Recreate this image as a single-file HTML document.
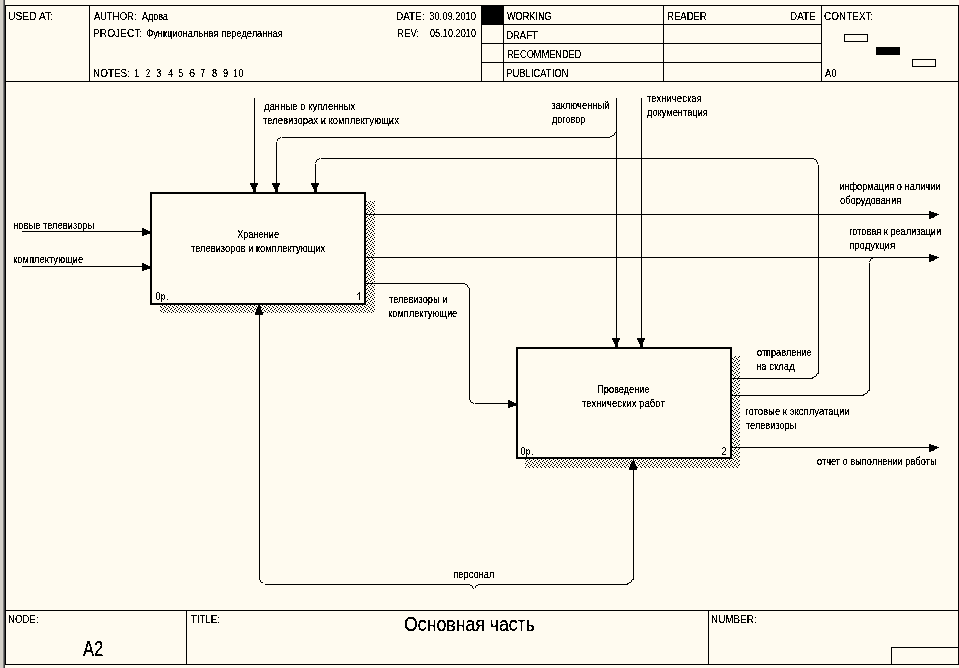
<!DOCTYPE html>
<html><head><meta charset="utf-8"><title>IDEF0</title>
<style>
html,body{margin:0;padding:0;width:959px;height:668px;overflow:hidden;background:#FFFBF0}
svg{position:absolute;left:0;top:0;display:block}
text{font-family:"Liberation Sans",sans-serif;fill:#000}
</style></head><body>
<svg width="959" height="668" viewBox="0 0 959 668">
<defs>
<pattern id="sh" patternUnits="userSpaceOnUse" x="0" y="0" width="4" height="4">
<rect width="4" height="4" fill="#FFFBF0"/>
<rect x="3" y="0" width="1" height="1" fill="#000"/>
<rect x="2" y="1" width="1" height="1" fill="#000"/>
<rect x="0" y="2" width="1" height="1" fill="#000"/>
<rect x="1" y="3" width="1" height="1" fill="#000"/>
</pattern>
<filter id="al" x="0" y="0" width="959" height="668" filterUnits="userSpaceOnUse">
<feComponentTransfer><feFuncA type="discrete" tableValues="0 0 0 0 1 1 1 1 1 1 1"/></feComponentTransfer>
</filter>
<filter id="al2" x="0" y="0" width="959" height="668" filterUnits="userSpaceOnUse">
<feComponentTransfer><feFuncA type="discrete" tableValues="0 0 1 1 1"/></feComponentTransfer>
</filter>
</defs>
<g shape-rendering="crispEdges">
<rect x="0" y="0" width="3" height="668" fill="#D4D0C8"/>
<rect x="3" y="0" width="1" height="668" fill="#808080"/>
<rect x="4" y="0" width="1" height="668" fill="#404040"/>
<rect x="5" y="5" width="954" height="1" fill="#000"/>
<rect x="5" y="664" width="954" height="1" fill="#000"/>
<rect x="5" y="5" width="1" height="660" fill="#000"/>
<rect x="958" y="5" width="1" height="660" fill="#000"/>
<rect x="5" y="81" width="954" height="1" fill="#000"/>
<rect x="89" y="5" width="1" height="77" fill="#000"/>
<rect x="481" y="5" width="1" height="77" fill="#000"/>
<rect x="503" y="5" width="1" height="77" fill="#000"/>
<rect x="663" y="5" width="1" height="77" fill="#000"/>
<rect x="821" y="5" width="1" height="77" fill="#000"/>
<rect x="481" y="24" width="341" height="1" fill="#000"/>
<rect x="481" y="43" width="341" height="1" fill="#000"/>
<rect x="481" y="62" width="341" height="1" fill="#000"/>
<rect x="481" y="5" width="23" height="20" fill="#000"/>
<rect x="844" y="34" width="24" height="8" fill="#000"/>
<rect x="845" y="35" width="22" height="6" fill="#FFFBF0"/>
<rect x="876" y="47" width="24" height="8" fill="#000"/>
<rect x="912" y="59" width="24" height="8" fill="#000"/>
<rect x="913" y="60" width="22" height="6" fill="#FFFBF0"/>
<rect x="5" y="610" width="954" height="1" fill="#000"/>
<rect x="186" y="610" width="1" height="55" fill="#000"/>
<rect x="708" y="610" width="1" height="55" fill="#000"/>
<rect x="891" y="647" width="1" height="18" fill="#000"/>
<rect x="891" y="647" width="68" height="1" fill="#000"/>
<rect x="366" y="201" width="9" height="112" fill="url(#sh)"/>
<rect x="160" y="305" width="206" height="8" fill="url(#sh)"/>
<rect x="150" y="192" width="216" height="2" fill="#000"/>
<rect x="150" y="303" width="216" height="2" fill="#000"/>
<rect x="150" y="192" width="2" height="113" fill="#000"/>
<rect x="364" y="192" width="2" height="113" fill="#000"/>
<rect x="732" y="356" width="8" height="112" fill="url(#sh)"/>
<rect x="525" y="459" width="207" height="9" fill="url(#sh)"/>
<rect x="516" y="347" width="216" height="2" fill="#000"/>
<rect x="516" y="457" width="216" height="2" fill="#000"/>
<rect x="516" y="347" width="2" height="112" fill="#000"/>
<rect x="730" y="347" width="2" height="112" fill="#000"/>
<rect x="22" y="231" width="128" height="1" fill="#000"/>
<rect x="142" y="228" width="1" height="8" fill="#000"/>
<rect x="143" y="228" width="1" height="8" fill="#000"/>
<rect x="144" y="229" width="1" height="6" fill="#000"/>
<rect x="145" y="229" width="1" height="6" fill="#000"/>
<rect x="146" y="230" width="1" height="5" fill="#000"/>
<rect x="147" y="230" width="1" height="4" fill="#000"/>
<rect x="148" y="231" width="1" height="3" fill="#000"/>
<rect x="149" y="231" width="1" height="3" fill="#000"/>
<rect x="22" y="266" width="128" height="1" fill="#000"/>
<rect x="142" y="263" width="1" height="8" fill="#000"/>
<rect x="143" y="263" width="1" height="8" fill="#000"/>
<rect x="144" y="264" width="1" height="6" fill="#000"/>
<rect x="145" y="264" width="1" height="6" fill="#000"/>
<rect x="146" y="265" width="1" height="5" fill="#000"/>
<rect x="147" y="265" width="1" height="4" fill="#000"/>
<rect x="148" y="266" width="1" height="3" fill="#000"/>
<rect x="149" y="266" width="1" height="3" fill="#000"/>
<rect x="254" y="98" width="1" height="94" fill="#000"/>
<rect x="250" y="183" width="8" height="1" fill="#000"/>
<rect x="250" y="184" width="8" height="1" fill="#000"/>
<rect x="251" y="185" width="6" height="1" fill="#000"/>
<rect x="251" y="186" width="6" height="1" fill="#000"/>
<rect x="252" y="187" width="4" height="1" fill="#000"/>
<rect x="252" y="188" width="4" height="1" fill="#000"/>
<rect x="253" y="189" width="3" height="1" fill="#000"/>
<rect x="253" y="190" width="3" height="1" fill="#000"/>
<rect x="253" y="191" width="3" height="1" fill="#000"/>
<rect x="616" y="98" width="1" height="249" fill="#000"/>
<rect x="612" y="338" width="8" height="1" fill="#000"/>
<rect x="612" y="339" width="8" height="1" fill="#000"/>
<rect x="613" y="340" width="6" height="1" fill="#000"/>
<rect x="613" y="341" width="6" height="1" fill="#000"/>
<rect x="614" y="342" width="4" height="1" fill="#000"/>
<rect x="614" y="343" width="4" height="1" fill="#000"/>
<rect x="615" y="344" width="3" height="1" fill="#000"/>
<rect x="615" y="345" width="3" height="1" fill="#000"/>
<rect x="615" y="346" width="3" height="1" fill="#000"/>
<rect x="641" y="98" width="1" height="249" fill="#000"/>
<rect x="637" y="338" width="8" height="1" fill="#000"/>
<rect x="637" y="339" width="8" height="1" fill="#000"/>
<rect x="638" y="340" width="6" height="1" fill="#000"/>
<rect x="638" y="341" width="6" height="1" fill="#000"/>
<rect x="639" y="342" width="4" height="1" fill="#000"/>
<rect x="639" y="343" width="4" height="1" fill="#000"/>
<rect x="640" y="344" width="3" height="1" fill="#000"/>
<rect x="640" y="345" width="3" height="1" fill="#000"/>
<rect x="640" y="346" width="3" height="1" fill="#000"/>
<rect x="157" y="292" width="1" height="1" fill="#000"/>
<rect x="158" y="292" width="1" height="1" fill="#000"/>
<rect x="157" y="299" width="1" height="1" fill="#000"/>
<rect x="158" y="299" width="1" height="1" fill="#000"/>
<rect x="156" y="293" width="1" height="6" fill="#000"/>
<rect x="159" y="293" width="1" height="6" fill="#000"/>
<rect x="161" y="294" width="1" height="8" fill="#000"/>
<rect x="163" y="294" width="1" height="1" fill="#000"/>
<rect x="162" y="295" width="1" height="1" fill="#000"/>
<rect x="164" y="295" width="1" height="1" fill="#000"/>
<rect x="164" y="296" width="1" height="1" fill="#000"/>
<rect x="164" y="297" width="1" height="1" fill="#000"/>
<rect x="164" y="298" width="1" height="1" fill="#000"/>
<rect x="162" y="298" width="1" height="1" fill="#000"/>
<rect x="163" y="299" width="1" height="1" fill="#000"/>
<rect x="167" y="299" width="1" height="1" fill="#000"/>
<rect x="522" y="447" width="1" height="1" fill="#000"/>
<rect x="523" y="447" width="1" height="1" fill="#000"/>
<rect x="522" y="454" width="1" height="1" fill="#000"/>
<rect x="523" y="454" width="1" height="1" fill="#000"/>
<rect x="521" y="448" width="1" height="6" fill="#000"/>
<rect x="524" y="448" width="1" height="6" fill="#000"/>
<rect x="526" y="449" width="1" height="8" fill="#000"/>
<rect x="528" y="449" width="1" height="1" fill="#000"/>
<rect x="527" y="450" width="1" height="1" fill="#000"/>
<rect x="529" y="450" width="1" height="1" fill="#000"/>
<rect x="529" y="451" width="1" height="1" fill="#000"/>
<rect x="529" y="452" width="1" height="1" fill="#000"/>
<rect x="529" y="453" width="1" height="1" fill="#000"/>
<rect x="527" y="453" width="1" height="1" fill="#000"/>
<rect x="528" y="454" width="1" height="1" fill="#000"/>
<rect x="532" y="454" width="1" height="1" fill="#000"/>
<rect x="723" y="447" width="1" height="1" fill="#000"/>
<rect x="724" y="447" width="1" height="1" fill="#000"/>
<rect x="722" y="448" width="1" height="1" fill="#000"/>
<rect x="725" y="448" width="1" height="1" fill="#000"/>
<rect x="725" y="449" width="1" height="1" fill="#000"/>
<rect x="725" y="450" width="1" height="1" fill="#000"/>
<rect x="724" y="451" width="1" height="1" fill="#000"/>
<rect x="723" y="452" width="1" height="1" fill="#000"/>
<rect x="722" y="453" width="1" height="1" fill="#000"/>
<rect x="722" y="454" width="1" height="1" fill="#000"/>
<rect x="723" y="454" width="1" height="1" fill="#000"/>
<rect x="724" y="454" width="1" height="1" fill="#000"/>
<rect x="725" y="454" width="1" height="1" fill="#000"/>
<rect x="359" y="292" width="1" height="8" fill="#000"/>
<rect x="358" y="293" width="1" height="1" fill="#000"/>
<rect x="357" y="294" width="1" height="1" fill="#000"/>
<rect x="282" y="137" width="328" height="1" fill="#000"/>
<rect x="610" y="136" width="1" height="1" fill="#000"/>
<rect x="611" y="136" width="1" height="1" fill="#000"/>
<rect x="612" y="135" width="1" height="1" fill="#000"/>
<rect x="613" y="135" width="1" height="1" fill="#000"/>
<rect x="614" y="134" width="1" height="1" fill="#000"/>
<rect x="614" y="133" width="1" height="1" fill="#000"/>
<rect x="615" y="132" width="1" height="1" fill="#000"/>
<rect x="280" y="137" width="1" height="1" fill="#000"/>
<rect x="279" y="138" width="1" height="1" fill="#000"/>
<rect x="278" y="138" width="1" height="1" fill="#000"/>
<rect x="277" y="139" width="1" height="1" fill="#000"/>
<rect x="277" y="140" width="1" height="1" fill="#000"/>
<rect x="276" y="142" width="1" height="41" fill="#000"/>
<rect x="272" y="183" width="8" height="1" fill="#000"/>
<rect x="272" y="184" width="8" height="1" fill="#000"/>
<rect x="273" y="185" width="6" height="1" fill="#000"/>
<rect x="273" y="186" width="6" height="1" fill="#000"/>
<rect x="274" y="187" width="4" height="1" fill="#000"/>
<rect x="274" y="188" width="4" height="1" fill="#000"/>
<rect x="275" y="189" width="3" height="1" fill="#000"/>
<rect x="275" y="190" width="3" height="1" fill="#000"/>
<rect x="275" y="191" width="3" height="1" fill="#000"/>
<rect x="732" y="378" width="81" height="1" fill="#000"/>
<rect x="818" y="373" width="1" height="1" fill="#000"/>
<rect x="817" y="373" width="1" height="1" fill="#000"/>
<rect x="816" y="374" width="1" height="1" fill="#000"/>
<rect x="816" y="375" width="1" height="1" fill="#000"/>
<rect x="815" y="376" width="1" height="1" fill="#000"/>
<rect x="814" y="376" width="1" height="1" fill="#000"/>
<rect x="813" y="377" width="1" height="1" fill="#000"/>
<rect x="812" y="377" width="1" height="1" fill="#000"/>
<rect x="818" y="165" width="1" height="209" fill="#000"/>
<rect x="814" y="159" width="1" height="1" fill="#000"/>
<rect x="815" y="159" width="1" height="1" fill="#000"/>
<rect x="816" y="160" width="1" height="1" fill="#000"/>
<rect x="816" y="161" width="1" height="1" fill="#000"/>
<rect x="817" y="162" width="1" height="1" fill="#000"/>
<rect x="817" y="163" width="1" height="1" fill="#000"/>
<rect x="321" y="158" width="493" height="1" fill="#000"/>
<rect x="319" y="158" width="1" height="1" fill="#000"/>
<rect x="318" y="159" width="1" height="1" fill="#000"/>
<rect x="317" y="159" width="1" height="1" fill="#000"/>
<rect x="316" y="160" width="1" height="1" fill="#000"/>
<rect x="316" y="161" width="1" height="1" fill="#000"/>
<rect x="315" y="162" width="1" height="1" fill="#000"/>
<rect x="315" y="164" width="1" height="19" fill="#000"/>
<rect x="311" y="183" width="8" height="1" fill="#000"/>
<rect x="311" y="184" width="8" height="1" fill="#000"/>
<rect x="312" y="185" width="6" height="1" fill="#000"/>
<rect x="312" y="186" width="6" height="1" fill="#000"/>
<rect x="313" y="187" width="4" height="1" fill="#000"/>
<rect x="313" y="188" width="4" height="1" fill="#000"/>
<rect x="314" y="189" width="3" height="1" fill="#000"/>
<rect x="314" y="190" width="3" height="1" fill="#000"/>
<rect x="314" y="191" width="3" height="1" fill="#000"/>
<rect x="366" y="214" width="573" height="1" fill="#000"/>
<rect x="929" y="211" width="1" height="8" fill="#000"/>
<rect x="930" y="211" width="1" height="8" fill="#000"/>
<rect x="931" y="212" width="1" height="6" fill="#000"/>
<rect x="932" y="212" width="1" height="6" fill="#000"/>
<rect x="933" y="212" width="1" height="6" fill="#000"/>
<rect x="934" y="213" width="1" height="4" fill="#000"/>
<rect x="935" y="213" width="1" height="3" fill="#000"/>
<rect x="936" y="213" width="1" height="3" fill="#000"/>
<rect x="366" y="257" width="573" height="1" fill="#000"/>
<rect x="929" y="254" width="1" height="8" fill="#000"/>
<rect x="930" y="254" width="1" height="8" fill="#000"/>
<rect x="931" y="255" width="1" height="6" fill="#000"/>
<rect x="932" y="255" width="1" height="6" fill="#000"/>
<rect x="933" y="255" width="1" height="6" fill="#000"/>
<rect x="934" y="256" width="1" height="4" fill="#000"/>
<rect x="935" y="256" width="1" height="3" fill="#000"/>
<rect x="936" y="256" width="1" height="3" fill="#000"/>
<rect x="366" y="283" width="99" height="1" fill="#000"/>
<rect x="465" y="284" width="1" height="1" fill="#000"/>
<rect x="466" y="284" width="1" height="1" fill="#000"/>
<rect x="467" y="285" width="1" height="1" fill="#000"/>
<rect x="467" y="286" width="1" height="1" fill="#000"/>
<rect x="468" y="287" width="1" height="1" fill="#000"/>
<rect x="469" y="288" width="1" height="112" fill="#000"/>
<rect x="470" y="400" width="1" height="1" fill="#000"/>
<rect x="470" y="401" width="1" height="1" fill="#000"/>
<rect x="471" y="402" width="1" height="1" fill="#000"/>
<rect x="472" y="402" width="1" height="1" fill="#000"/>
<rect x="473" y="403" width="1" height="1" fill="#000"/>
<rect x="475" y="403" width="33" height="1" fill="#000"/>
<rect x="508" y="400" width="1" height="8" fill="#000"/>
<rect x="509" y="400" width="1" height="8" fill="#000"/>
<rect x="510" y="401" width="1" height="6" fill="#000"/>
<rect x="511" y="401" width="1" height="6" fill="#000"/>
<rect x="512" y="402" width="1" height="5" fill="#000"/>
<rect x="513" y="402" width="1" height="4" fill="#000"/>
<rect x="514" y="403" width="1" height="3" fill="#000"/>
<rect x="515" y="403" width="1" height="3" fill="#000"/>
<rect x="732" y="395" width="132" height="1" fill="#000"/>
<rect x="869" y="390" width="1" height="1" fill="#000"/>
<rect x="868" y="390" width="1" height="1" fill="#000"/>
<rect x="867" y="391" width="1" height="1" fill="#000"/>
<rect x="867" y="392" width="1" height="1" fill="#000"/>
<rect x="866" y="393" width="1" height="1" fill="#000"/>
<rect x="865" y="393" width="1" height="1" fill="#000"/>
<rect x="864" y="394" width="1" height="1" fill="#000"/>
<rect x="863" y="394" width="1" height="1" fill="#000"/>
<rect x="869" y="263" width="1" height="128" fill="#000"/>
<rect x="871" y="258" width="1" height="1" fill="#000"/>
<rect x="872" y="258" width="1" height="1" fill="#000"/>
<rect x="870" y="259" width="1" height="1" fill="#000"/>
<rect x="870" y="260" width="1" height="1" fill="#000"/>
<rect x="869" y="261" width="1" height="1" fill="#000"/>
<rect x="732" y="447" width="207" height="1" fill="#000"/>
<rect x="929" y="444" width="1" height="8" fill="#000"/>
<rect x="930" y="444" width="1" height="8" fill="#000"/>
<rect x="931" y="445" width="1" height="6" fill="#000"/>
<rect x="932" y="445" width="1" height="6" fill="#000"/>
<rect x="933" y="445" width="1" height="6" fill="#000"/>
<rect x="934" y="446" width="1" height="4" fill="#000"/>
<rect x="935" y="446" width="1" height="3" fill="#000"/>
<rect x="936" y="446" width="1" height="3" fill="#000"/>
<rect x="259" y="305" width="1" height="275" fill="#000"/>
<rect x="260" y="580" width="1" height="1" fill="#000"/>
<rect x="260" y="581" width="1" height="1" fill="#000"/>
<rect x="261" y="582" width="1" height="1" fill="#000"/>
<rect x="262" y="582" width="1" height="1" fill="#000"/>
<rect x="265" y="584" width="205" height="1" fill="#000"/>
<rect x="470" y="585" width="1" height="1" fill="#000"/>
<rect x="471" y="585" width="1" height="1" fill="#000"/>
<rect x="472" y="586" width="1" height="1" fill="#000"/>
<rect x="472" y="587" width="1" height="1" fill="#000"/>
<rect x="473" y="588" width="1" height="1" fill="#000"/>
<rect x="475" y="586" width="1" height="1" fill="#000"/>
<rect x="475" y="587" width="1" height="1" fill="#000"/>
<rect x="476" y="585" width="1" height="1" fill="#000"/>
<rect x="477" y="585" width="1" height="1" fill="#000"/>
<rect x="478" y="584" width="150" height="1" fill="#000"/>
<rect x="632" y="579" width="1" height="1" fill="#000"/>
<rect x="631" y="580" width="1" height="1" fill="#000"/>
<rect x="631" y="581" width="1" height="1" fill="#000"/>
<rect x="630" y="582" width="1" height="1" fill="#000"/>
<rect x="629" y="582" width="1" height="1" fill="#000"/>
<rect x="628" y="583" width="1" height="1" fill="#000"/>
<rect x="627" y="583" width="1" height="1" fill="#000"/>
<rect x="633" y="459" width="1" height="121" fill="#000"/>
<rect x="258" y="306" width="3" height="1" fill="#000"/>
<rect x="257" y="307" width="4" height="1" fill="#000"/>
<rect x="257" y="308" width="4" height="1" fill="#000"/>
<rect x="256" y="309" width="5" height="1" fill="#000"/>
<rect x="256" y="310" width="6" height="1" fill="#000"/>
<rect x="256" y="311" width="6" height="1" fill="#000"/>
<rect x="255" y="312" width="8" height="1" fill="#000"/>
<rect x="255" y="313" width="8" height="1" fill="#000"/>
<rect x="255" y="314" width="8" height="1" fill="#000"/>
<rect x="632" y="461" width="3" height="1" fill="#000"/>
<rect x="631" y="462" width="4" height="1" fill="#000"/>
<rect x="631" y="463" width="4" height="1" fill="#000"/>
<rect x="630" y="464" width="5" height="1" fill="#000"/>
<rect x="630" y="465" width="6" height="1" fill="#000"/>
<rect x="630" y="466" width="6" height="1" fill="#000"/>
<rect x="629" y="467" width="8" height="1" fill="#000"/>
<rect x="629" y="468" width="8" height="1" fill="#000"/>
<rect x="629" y="469" width="8" height="1" fill="#000"/>
</g>
<g filter="url(#al)">
<text x="142.00" y="20" font-size="11" textLength="25.77" lengthAdjust="spacingAndGlyphs">Адова</text>
<text x="146.16" y="37" font-size="11" textLength="136.57" lengthAdjust="spacingAndGlyphs">Функциональная переделанная</text>
<text x="264.00" y="110" font-size="11" textLength="91.38" lengthAdjust="spacingAndGlyphs">данные о купленных</text>
<text x="263.00" y="124" font-size="11" textLength="135.89" lengthAdjust="spacingAndGlyphs">телевизорах и комплектующих</text>
<text x="551.15" y="109" font-size="11" textLength="58.34" lengthAdjust="spacingAndGlyphs">заключенный</text>
<text x="552.00" y="123" font-size="11" textLength="33.32" lengthAdjust="spacingAndGlyphs">договор</text>
<text x="647.00" y="102" font-size="11" textLength="54.87" lengthAdjust="spacingAndGlyphs">техническая</text>
<text x="647.00" y="116" font-size="11" textLength="60.88" lengthAdjust="spacingAndGlyphs">документация</text>
<text x="839.16" y="190" font-size="11" textLength="101.34" lengthAdjust="spacingAndGlyphs">информация о наличии</text>
<text x="840.00" y="204" font-size="11" textLength="61.19" lengthAdjust="spacingAndGlyphs">оборудования</text>
<text x="849.17" y="235" font-size="11" textLength="91.90" lengthAdjust="spacingAndGlyphs">готовая к реализации</text>
<text x="849.13" y="249" font-size="11" textLength="45.95" lengthAdjust="spacingAndGlyphs">продукция</text>
<text x="13.15" y="229" font-size="11" textLength="81.17" lengthAdjust="spacingAndGlyphs">новые телевизоры</text>
<text x="13.15" y="263" font-size="11" textLength="70.09" lengthAdjust="spacingAndGlyphs">комплектующие</text>
<text x="237.16" y="238" font-size="11" textLength="41.93" lengthAdjust="spacingAndGlyphs">Хранение</text>
<text x="191.00" y="252" font-size="11" textLength="134.19" lengthAdjust="spacingAndGlyphs">телевизоров и комплектующих</text>
<text x="389.00" y="303" font-size="11" textLength="58.39" lengthAdjust="spacingAndGlyphs">телевизоры и</text>
<text x="388.16" y="317" font-size="11" textLength="69.08" lengthAdjust="spacingAndGlyphs">комплектующие</text>
<text x="757.00" y="356" font-size="11" textLength="54.48" lengthAdjust="spacingAndGlyphs">отправление</text>
<text x="756.14" y="370" font-size="11" textLength="38.55" lengthAdjust="spacingAndGlyphs">на склад</text>
<text x="597.16" y="393" font-size="11" textLength="52.36" lengthAdjust="spacingAndGlyphs">Проведение</text>
<text x="582.00" y="407" font-size="11" textLength="82.85" lengthAdjust="spacingAndGlyphs">технических работ</text>
<text x="745.13" y="415" font-size="11" textLength="104.54" lengthAdjust="spacingAndGlyphs">готовые к эксплуатации</text>
<text x="746.00" y="429" font-size="11" textLength="50.22" lengthAdjust="spacingAndGlyphs">телевизоры</text>
<text x="817.00" y="465" font-size="11" textLength="119.54" lengthAdjust="spacingAndGlyphs">отчет о выполнении работы</text>
<text x="453.15" y="578" font-size="11" textLength="41.32" lengthAdjust="spacingAndGlyphs">персонал</text>
<text x="83.00" y="656" font-size="21.6" textLength="20.32" lengthAdjust="spacingAndGlyphs">A2</text>
<text x="404.12" y="631" font-size="20" textLength="130.79" lengthAdjust="spacingAndGlyphs">Основная часть</text>
</g>
<g filter="url(#al2)">
<text x="8.07" y="20" font-size="11" textLength="44.96" lengthAdjust="spacingAndGlyphs">USED AT:</text>
<text x="94.00" y="20" font-size="11" textLength="42.43" lengthAdjust="spacingAndGlyphs">AUTHOR:</text>
<text x="93.08" y="37" font-size="11" textLength="49.02" lengthAdjust="spacingAndGlyphs">PROJECT:</text>
<text x="93.10" y="77" font-size="11" textLength="36.75" lengthAdjust="spacingAndGlyphs">NOTES:</text>
<text x="396.10" y="20" font-size="11" textLength="28.42" lengthAdjust="spacingAndGlyphs">DATE:</text>
<text x="429.15" y="20" font-size="11" textLength="46.91" lengthAdjust="spacingAndGlyphs">30.09.2010</text>
<text x="397.12" y="37" font-size="11" textLength="22.11" lengthAdjust="spacingAndGlyphs">REV:</text>
<text x="430.00" y="37" font-size="11" textLength="46.05" lengthAdjust="spacingAndGlyphs">05.10.2010</text>
<text x="507.00" y="20" font-size="11" textLength="44.65" lengthAdjust="spacingAndGlyphs">WORKING</text>
<text x="506.14" y="39" font-size="11" textLength="31.58" lengthAdjust="spacingAndGlyphs">DRAFT</text>
<text x="507.16" y="58" font-size="11" textLength="74.36" lengthAdjust="spacingAndGlyphs">RECOMMENDED</text>
<text x="506.14" y="77" font-size="11" textLength="62.32" lengthAdjust="spacingAndGlyphs">PUBLICATION</text>
<text x="667.14" y="20" font-size="11" textLength="39.59" lengthAdjust="spacingAndGlyphs">READER</text>
<text x="790.11" y="20" font-size="11" textLength="25.36" lengthAdjust="spacingAndGlyphs">DATE</text>
<text x="824.09" y="20" font-size="11" textLength="49.27" lengthAdjust="spacingAndGlyphs">CONTEXT:</text>
<text x="825.00" y="77" font-size="11" textLength="11.40" lengthAdjust="spacingAndGlyphs">A0</text>
<text x="8.12" y="623" font-size="11" textLength="30.62" lengthAdjust="spacingAndGlyphs">NODE:</text>
<text x="191.00" y="623" font-size="11" textLength="28.89" lengthAdjust="spacingAndGlyphs">TITLE:</text>
<text x="711.10" y="623" font-size="11" textLength="45.56" lengthAdjust="spacingAndGlyphs">NUMBER:</text>
<text x="134.20" y="77" font-size="11" textLength="4.90" lengthAdjust="spacingAndGlyphs">1</text>
<text x="146.00" y="77" font-size="11" textLength="4.08" lengthAdjust="spacingAndGlyphs">2</text>
<text x="156.20" y="77" font-size="11" textLength="4.90" lengthAdjust="spacingAndGlyphs">3</text>
<text x="168.00" y="77" font-size="11" textLength="5.10" lengthAdjust="spacingAndGlyphs">4</text>
<text x="178.20" y="77" font-size="11" textLength="4.90" lengthAdjust="spacingAndGlyphs">5</text>
<text x="189.00" y="77" font-size="11" textLength="6.12" lengthAdjust="spacingAndGlyphs">6</text>
<text x="200.20" y="77" font-size="11" textLength="4.90" lengthAdjust="spacingAndGlyphs">7</text>
<text x="212.00" y="77" font-size="11" textLength="5.10" lengthAdjust="spacingAndGlyphs">8</text>
<text x="223.00" y="77" font-size="11" textLength="5.10" lengthAdjust="spacingAndGlyphs">9</text>
<text x="233.40" y="77" font-size="11" textLength="3.67" lengthAdjust="spacingAndGlyphs">1</text>
<text x="239.00" y="77" font-size="11" textLength="4.08" lengthAdjust="spacingAndGlyphs">0</text>
</g>
</svg>
</body></html>
